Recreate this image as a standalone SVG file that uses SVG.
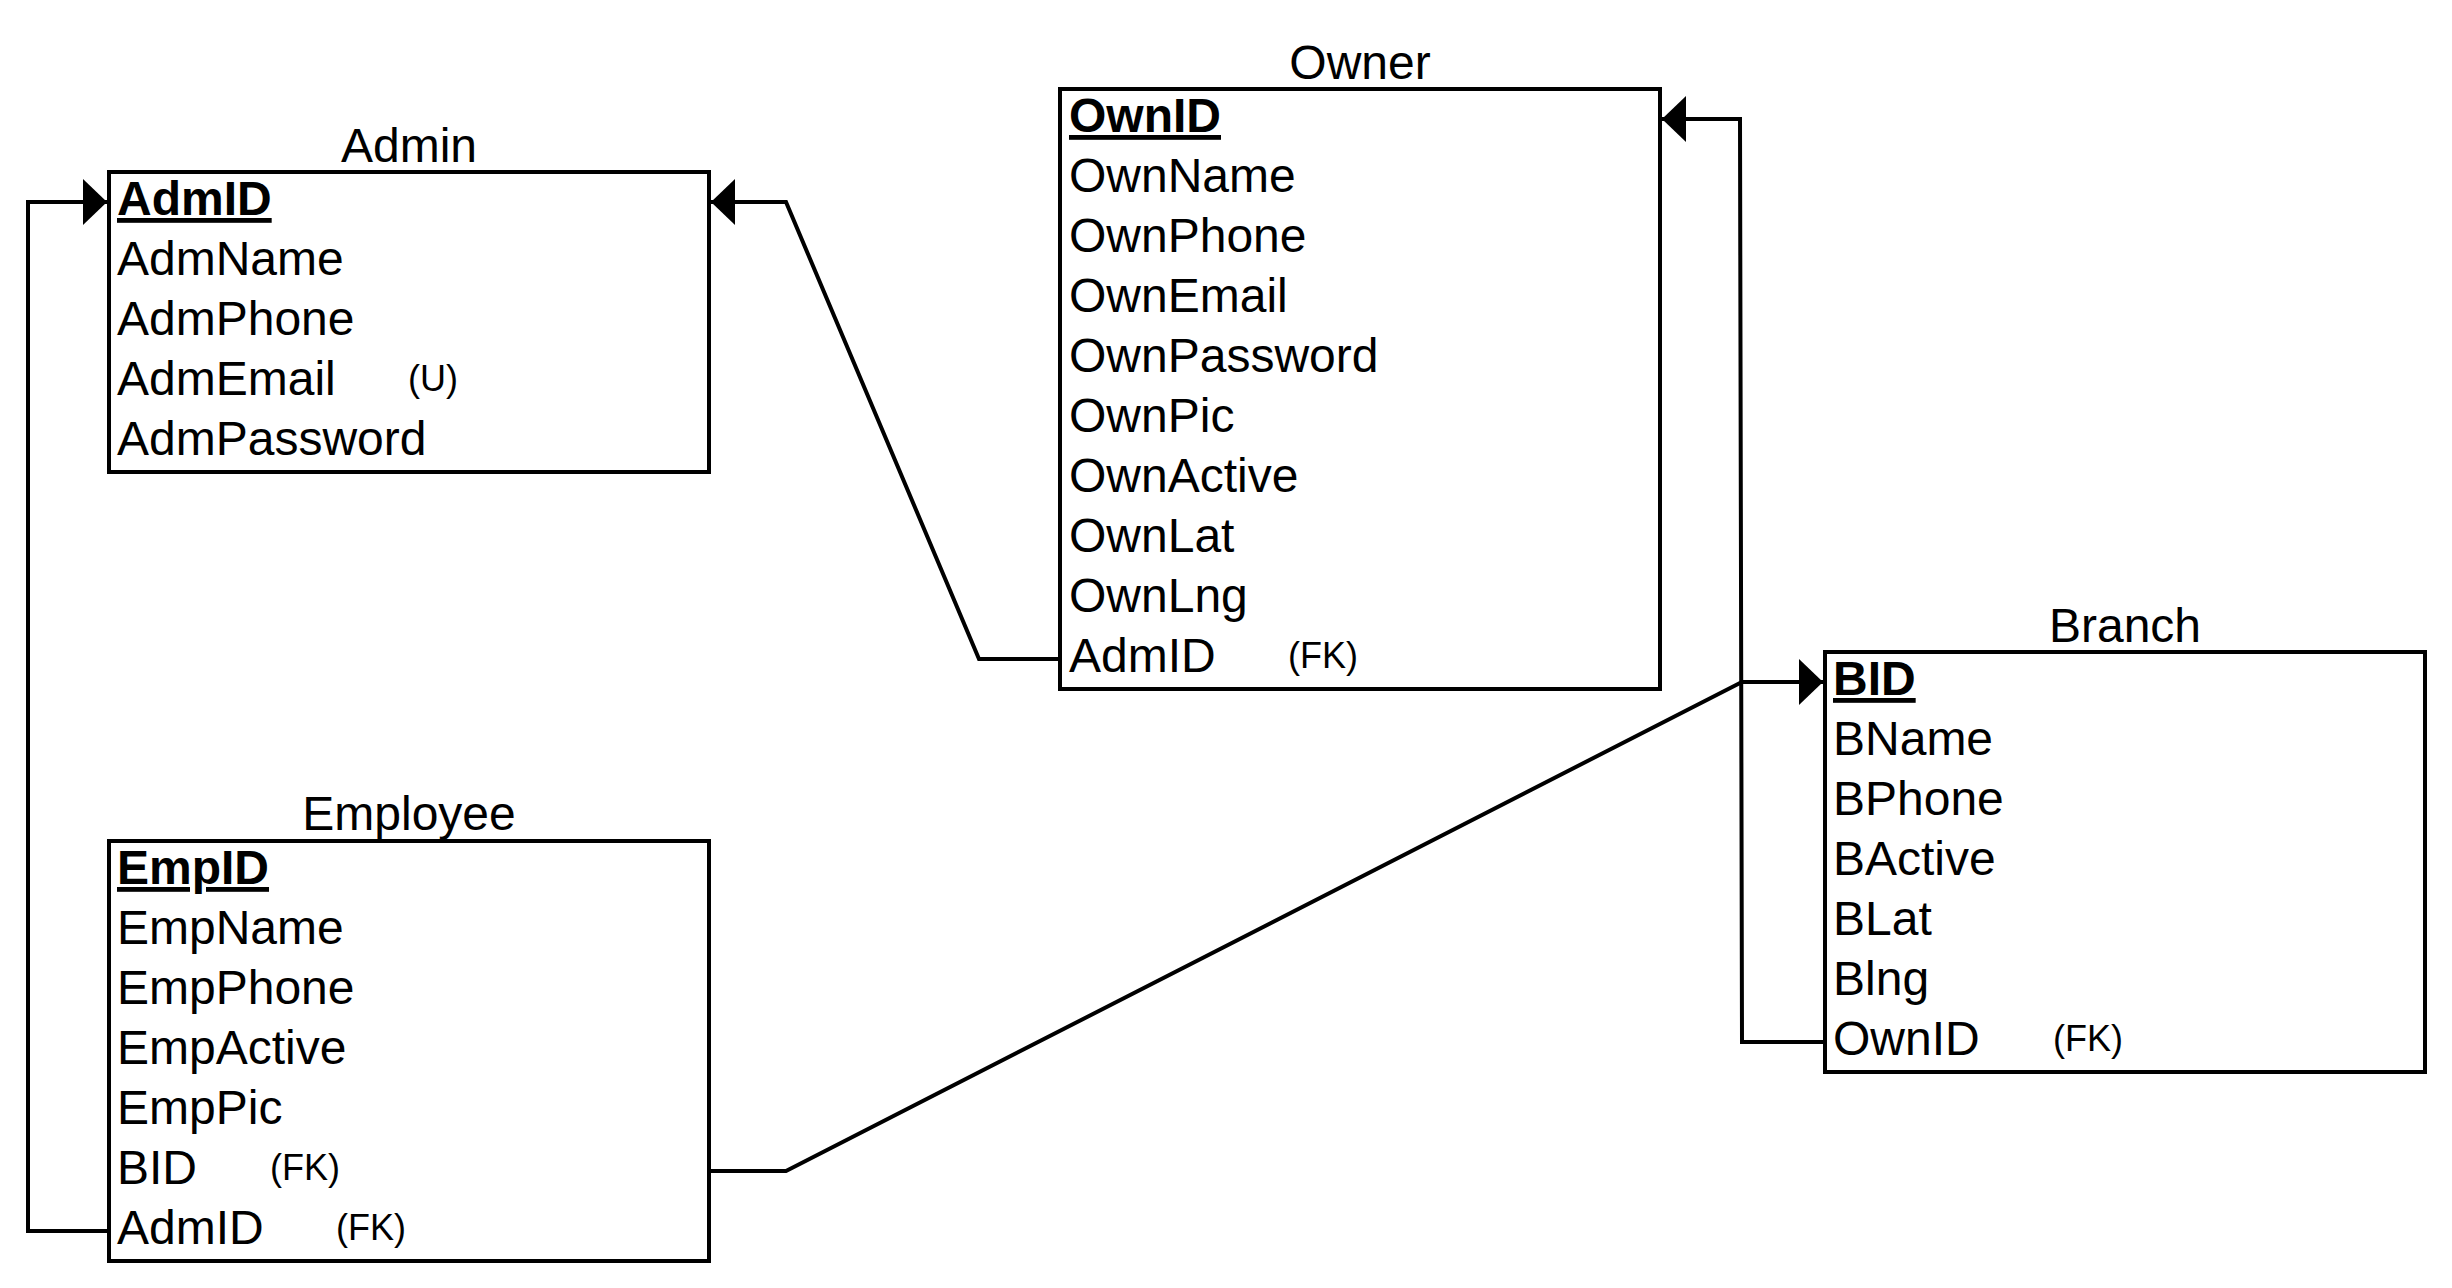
<svg xmlns="http://www.w3.org/2000/svg" width="2452" height="1288" viewBox="0 0 2452 1288">
<style>
.box{fill:#fff;stroke:#000;stroke-width:4}
.t{font-family:"Liberation Sans",Arial,sans-serif;font-size:48px;fill:#000}
.pk{font-weight:bold;text-decoration:underline}
.title{text-anchor:middle}
.s{font-family:"Liberation Sans",Arial,sans-serif;font-size:36px;fill:#000}
.c{fill:none;stroke:#000;stroke-width:4}
</style>
<defs>
<marker id="arr" markerUnits="userSpaceOnUse" markerWidth="26" markerHeight="48" refX="24" refY="23" orient="auto">
<path d="M0,0 L24,23 L0,46 Z" fill="#000"/>
</marker>
</defs>
<rect width="2452" height="1288" fill="#fff"/>
<g id="connectors">
<path class="c" d="M1060,659 L979,659 L786,202 L711,202" marker-end="url(#arr)"/>
<path class="c" d="M1825,1042 L1742,1042 L1740,119 L1662,119" marker-end="url(#arr)"/>
<path class="c" d="M709,1171 L786,1171 L1742,682 L1823,682" marker-end="url(#arr)"/>
<path class="c" d="M109,1231 L28,1231 L28,202 L107,202" marker-end="url(#arr)"/>
</g>
<g id="admin">
<text class="t title" x="409" y="162">Admin</text>
<rect class="box" x="109" y="172" width="600" height="300"/>
<text class="t pk" x="117" y="215">AdmID</text>
<text class="t" x="117" y="275">AdmName</text>
<text class="t" x="117" y="335">AdmPhone</text>
<text class="t" x="117" y="395">AdmEmail</text>
<text class="s" x="408" y="391">(U)</text>
<text class="t" x="117" y="455">AdmPassword</text>
</g>
<g id="owner">
<text class="t title" x="1360" y="79">Owner</text>
<rect class="box" x="1060" y="89" width="600" height="600"/>
<text class="t pk" x="1069" y="132">OwnID</text>
<text class="t" x="1069" y="192">OwnName</text>
<text class="t" x="1069" y="252">OwnPhone</text>
<text class="t" x="1069" y="312">OwnEmail</text>
<text class="t" x="1069" y="372">OwnPassword</text>
<text class="t" x="1069" y="432">OwnPic</text>
<text class="t" x="1069" y="492">OwnActive</text>
<text class="t" x="1069" y="552">OwnLat</text>
<text class="t" x="1069" y="612">OwnLng</text>
<text class="t" x="1069" y="672">AdmID</text>
<text class="s" x="1288" y="668">(FK)</text>
</g>
<g id="branch">
<text class="t title" x="2125" y="642">Branch</text>
<rect class="box" x="1825" y="652" width="600" height="420"/>
<text class="t pk" x="1833" y="695">BID</text>
<text class="t" x="1833" y="755">BName</text>
<text class="t" x="1833" y="815">BPhone</text>
<text class="t" x="1833" y="875">BActive</text>
<text class="t" x="1833" y="935">BLat</text>
<text class="t" x="1833" y="995">Blng</text>
<text class="t" x="1833" y="1055">OwnID</text>
<text class="s" x="2053" y="1051">(FK)</text>
</g>
<g id="employee">
<text class="t title" x="409" y="830">Employee</text>
<rect class="box" x="109" y="841" width="600" height="420"/>
<text class="t pk" x="117" y="884">EmpID</text>
<text class="t" x="117" y="944">EmpName</text>
<text class="t" x="117" y="1004">EmpPhone</text>
<text class="t" x="117" y="1064">EmpActive</text>
<text class="t" x="117" y="1124">EmpPic</text>
<text class="t" x="117" y="1184">BID</text>
<text class="s" x="270" y="1180">(FK)</text>
<text class="t" x="117" y="1244">AdmID</text>
<text class="s" x="336" y="1240">(FK)</text>
</g>
</svg>
